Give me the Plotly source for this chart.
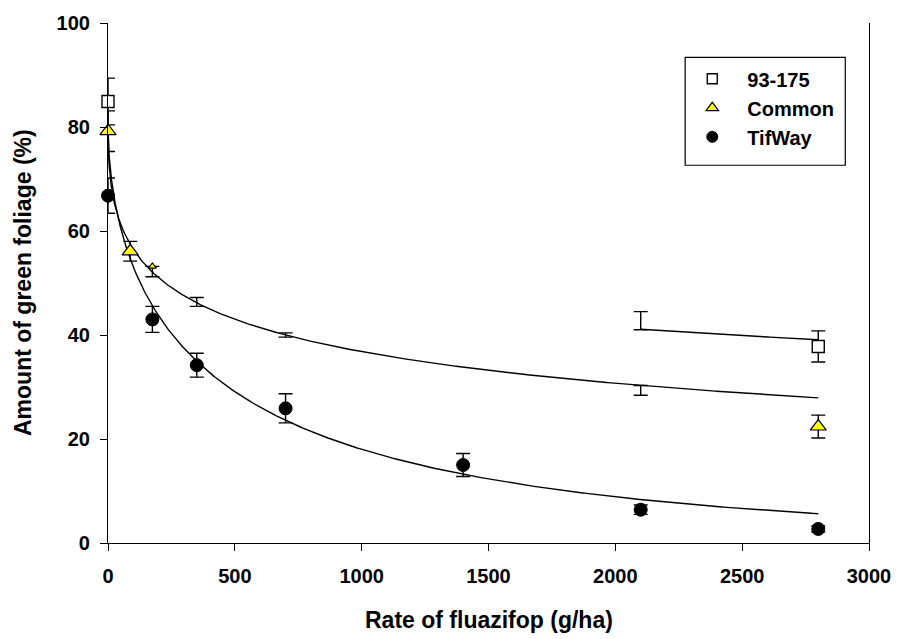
import numpy as np
import plotly.graph_objects as go

# ---------------- data ----------------
rates_93 = [0, 2100, 2800]
green_93 = [84.9, 41.0, 37.8]
err_up_93 = [4.5, 3.5, 3.0]
err_dn_93 = [4.5, 0.0, 3.0]

rates_common = [0, 87.5, 175, 350, 700, 2100, 2800]
green_common = [79.2, 56.1, 53.2, 47.2, 40.4, 30.3, 22.4]
err_up_common = [3.9, 1.9, 0.0, 0.0, 0.0, 0.0, 2.2]
err_dn_common = [3.9, 1.9, 2.0, 1.7, 0.8, 1.9, 2.2]

rates_tif = [0, 175, 350, 700, 1400, 2100, 2800]
green_tif = [66.8, 43.0, 34.2, 25.9, 15.0, 6.4, 2.7]
err_tif = [3.4, 2.5, 2.3, 2.8, 2.2, 0.9, 0.6]

series_names = ["93-175", "Common", "TifWay"]

# fitted regression parameters (estimated from the drawn curves)
fit_common = dict(d=80.0, e=700.0, b=0.45)   # log-logistic
fit_tif = dict(a=80.0, e=490.0, b=0.56)      # Weibull-type decay
fit_93 = dict(d=85.0, e=1720.0, b=0.33, x0=2100, x1=2800)

x_ticks = [0, 500, 1000, 1500, 2000, 2500, 3000]
y_ticks = [0, 20, 40, 60, 80, 100]

# ---------------- curves ----------------
xc = np.concatenate([np.linspace(0, 60, 300), np.linspace(60, 2800, 500)[1:]])
y_common_fit = fit_common["d"] / (1 + (xc / fit_common["e"]) ** fit_common["b"])
y_tif_fit = fit_tif["a"] * np.exp(-(xc / fit_tif["e"]) ** fit_tif["b"])
x93 = np.linspace(fit_93["x0"], fit_93["x1"], 100)
y93_fit = fit_93["d"] / (1 + (x93 / fit_93["e"]) ** fit_93["b"])

FONT = "Liberation Sans, Arial, sans-serif"
fig = go.Figure()

line_style = dict(color="black", width=1.4)
for xx, yy in [(xc, y_common_fit), (xc, y_tif_fit), (x93, y93_fit)]:
    fig.add_trace(go.Scatter(x=xx, y=yy, mode="lines", line=line_style,
                             showlegend=False, hoverinfo="skip", cliponaxis=False))

err_style = dict(color="black", thickness=1.4, width=7)

# 93-175
fig.add_trace(go.Scatter(
    x=rates_93, y=green_93, mode="markers", showlegend=False, cliponaxis=False,
    marker=dict(symbol="square", size=[12, 12, 12], opacity=[1, 0, 1],
                color="white", line=dict(color="black", width=1.4)),
    error_y=dict(type="data", symmetric=False, array=err_up_93,
                 arrayminus=err_dn_93, **err_style)))
# Common
fig.add_trace(go.Scatter(
    x=rates_common, y=green_common, mode="markers", showlegend=False, cliponaxis=False,
    marker=dict(symbol="triangle-up", size=[14, 14, 7, 0, 0, 0, 14],
                opacity=[1, 1, 1, 0, 0, 0, 1],
                color="#ffff00", line=dict(color="black", width=1.2)),
    error_y=dict(type="data", symmetric=False, array=err_up_common,
                 arrayminus=err_dn_common, **err_style)))
# TifWay
fig.add_trace(go.Scatter(
    x=rates_tif, y=green_tif, mode="markers", showlegend=False, cliponaxis=False,
    marker=dict(symbol="circle", size=13, color="black",
                line=dict(color="black", width=1)),
    error_y=dict(type="data", array=err_tif, **err_style)))

# legend entries
leg_markers = [
    dict(symbol="square", size=10, color="white", line=dict(color="black", width=1.4)),
    dict(symbol="triangle-up", size=11, color="#ffff00", line=dict(color="black", width=1.2)),
    dict(symbol="circle", size=11, color="black", line=dict(color="black", width=1)),
]
for name, mk in zip(series_names, leg_markers):
    fig.add_trace(go.Scatter(x=[None], y=[None], mode="markers", name=name, marker=mk))

def px_x(px):
    return (px - 108) / 770.0

def px_y(py):
    return (543 - py) / 530.0

fig.add_shape(type="rect", xref="paper", yref="paper",
              x0=px_x(692), x1=px_x(854), y0=px_y(158), y1=px_y(48),
              line=dict(color="black", width=1.2), fillcolor="white", layer="below")

fig.update_layout(
    width=903, height=639,
    margin=dict(l=108, r=25, t=13, b=96),
    paper_bgcolor="white", plot_bgcolor="white",
    font=dict(family=FONT, color="black", size=20, weight="bold"),
    showlegend=True,
    legend=dict(x=px_x(684), y=px_y(50), xanchor="left", yanchor="top",
                bgcolor="rgba(0,0,0,0)", borderwidth=0, itemwidth=60,
                font=dict(family=FONT, size=20, color="black", weight="bold"),
                tracegroupgap=0, itemsizing="trace"),
    xaxis=dict(range=[0, 3000], tickvals=x_ticks, ticks="outside", ticklen=7,
               tickwidth=1.2, tickcolor="black", showline=True, linecolor="black",
               linewidth=1.2, showgrid=False, zeroline=False, mirror=False,
               ticklabelstandoff=8,
               tickfont=dict(family=FONT, size=20, color="black", weight="bold")),
    yaxis=dict(range=[0, 100], tickvals=y_ticks, ticks="outside", ticklen=7,
               tickwidth=1.2, tickcolor="black", showline=True, linecolor="black",
               linewidth=1.2, showgrid=False, zeroline=False, mirror=True,
               ticklabelstandoff=6,
               tickfont=dict(family=FONT, size=20, color="black", weight="bold")),
)

fig.add_annotation(text="Rate of fluazifop (g/ha)", xref="paper", yref="paper",
                   x=0.5, y=px_y(621), xanchor="center", yanchor="middle",
                   showarrow=False,
                   font=dict(family=FONT, size=23, color="black", weight="bold"))
fig.add_annotation(text="Amount of green foliage (%)", xref="paper", yref="paper",
                   x=px_x(22), y=0.5, xanchor="center", yanchor="middle",
                   textangle=-90, showarrow=False,
                   font=dict(family=FONT, size=23, color="black", weight="bold"))

fig.write_html("out.html")
